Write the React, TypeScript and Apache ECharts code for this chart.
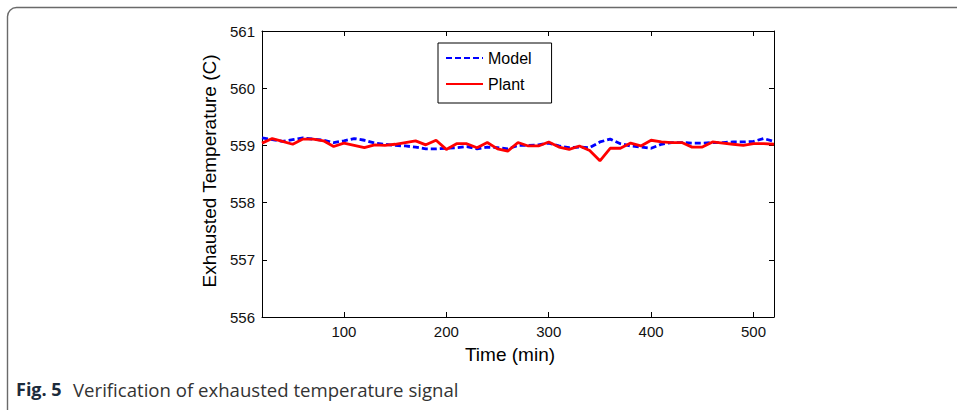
import React, { useEffect, useRef } from "react";
import * as echarts from "echarts";

const times: number[] = [
  20, 30, 40, 50, 60, 70, 80, 90, 100, 110, 120, 130, 140, 150, 160, 170, 180, 190, 200, 210,
  220, 230, 240, 250, 260, 270, 280, 290, 300, 310, 320, 330, 340, 350, 360, 370, 380, 390, 400,
  410, 420, 430, 440, 450, 460, 470, 480, 490, 500, 510, 520,
];

const modelValues: number[] = [
  559.13, 559.1, 559.07, 559.1, 559.13, 559.11, 559.09, 559.05, 559.08, 559.12, 559.09, 559.04,
  559.02, 559.0, 558.99, 558.97, 558.94, 558.94, 558.95, 558.96, 558.98, 558.94, 558.97, 558.96,
  558.94, 559.0, 559.0, 559.01, 559.04, 558.99, 558.96, 558.97, 558.96, 559.06, 559.11, 559.03,
  558.99, 558.97, 558.95, 559.02, 559.05, 559.05, 559.04, 559.04, 559.05, 559.05, 559.06, 559.06,
  559.07, 559.12, 559.07,
];

const plantValues: number[] = [
  559.04, 559.12, 559.07, 559.02, 559.11, 559.11, 559.08, 558.98, 559.04, 559.0, 558.96, 559.01,
  559.0, 559.02, 559.05, 559.08, 559.01, 559.09, 558.93, 559.03, 559.03, 558.96, 559.05, 558.94,
  558.9, 559.05, 558.99, 558.99, 559.06, 558.97, 558.93, 558.99, 558.91, 558.73, 558.95, 558.95,
  559.04, 558.99, 559.09, 559.06, 559.05, 559.05, 558.97, 558.97, 559.06, 559.04, 559.02, 559.0,
  559.03, 559.03, 559.02,
];

const xTicks: number[] = [100, 200, 300, 400, 500];
const seriesNames: string[] = ["Model", "Plant"];

const FONT = "'Liberation Sans', Arial, sans-serif";

export default function App() {
  const ref = useRef<HTMLDivElement>(null);

  useEffect(() => {
    if (!ref.current) return;
    const chart = echarts.init(ref.current, null, { renderer: "svg" });
    const modelData = times.map((t, i) => [t, modelValues[i]]);
    const plantData = times.map((t, i) => [t, plantValues[i]]);

    const axisCommon = {
      axisLine: { show: true, onZero: false, lineStyle: { color: "#000", width: 1 } },
      axisTick: { show: true, inside: true, length: 5, lineStyle: { color: "#000", width: 1 } },
      splitLine: { show: false },
    };

    chart.setOption({
      animation: false,
      backgroundColor: "#fff",
      grid: { left: 262, top: 31, width: 512, height: 286, containLabel: false },
      xAxis: [
        {
          type: "value",
          min: 20,
          max: 520,
          position: "bottom",
          ...axisCommon,
          axisTick: { ...axisCommon.axisTick, customValues: xTicks },
          axisLabel: {
            customValues: xTicks,
            color: "#111",
            fontSize: 15,
            fontFamily: FONT,
            margin: 7,
          },
          name: "Time (min)",
          nameLocation: "middle",
          nameGap: 28,
          nameTextStyle: { color: "#000", fontSize: 19, fontFamily: FONT, padding: [0, 16, 0, 0] },
        },
        {
          type: "value",
          min: 20,
          max: 520,
          position: "top",
          ...axisCommon,
          axisTick: { ...axisCommon.axisTick, customValues: xTicks },
          axisLabel: { show: false },
        },
      ],
      yAxis: [
        {
          type: "value",
          min: 556,
          max: 561,
          interval: 1,
          position: "left",
          ...axisCommon,
          axisLabel: { color: "#111", fontSize: 15, fontFamily: FONT, margin: 7 },
          name: "Exhausted Temperature (C)",
          nameLocation: "middle",
          nameGap: 41,
          nameRotate: 90,
          nameTextStyle: { color: "#000", fontSize: 19, fontFamily: FONT, padding: [0, 0, 0, 6] },
        },
        {
          type: "value",
          min: 556,
          max: 561,
          interval: 1,
          position: "right",
          ...axisCommon,
          axisLabel: { show: false },
        },
      ],
      legend: {
        orient: "vertical",
        left: 438,
        top: 43,
        data: seriesNames,
        backgroundColor: "#fff",
        borderColor: "#000",
        borderWidth: 1,
        borderRadius: 0,
        padding: [7, 20, 11, 7],
        itemGap: 10,
        itemWidth: 37,
        itemHeight: 16,
        itemStyle: { opacity: 0 },
        textStyle: { color: "#000", fontSize: 16, fontFamily: FONT, padding: [0, 0, 0, 0] },
      },
      series: [
        {
          name: seriesNames[0],
          type: "line",
          xAxisIndex: 0,
          yAxisIndex: 0,
          data: modelData,
          showSymbol: false,
          symbol: "none",
          lineStyle: { color: "#0000ff", width: 2.8, type: [6, 3] },
          itemStyle: { color: "#0000ff" },
          z: 2,
        },
        {
          name: seriesNames[1],
          type: "line",
          xAxisIndex: 0,
          yAxisIndex: 0,
          data: plantData,
          showSymbol: false,
          symbol: "none",
          lineStyle: { color: "#ff0000", width: 2.8 },
          itemStyle: { color: "#ff0000" },
          z: 3,
        },
      ],
      graphic: [
        {
          type: "rect",
          silent: true,
          shape: { x: 7.5, y: 7.5, width: 980, height: 440, r: [9, 0, 0, 0] },
          style: { fill: "none", stroke: "#6a6a6a", lineWidth: 1.4 },
          z: -1,
        },
        {
          type: "text",
          left: 16,
          top: 380,
          style: {
            text: "Fig. 5",
            font: "bold 18px 'Open Sans', 'Noto Sans', sans-serif",
            fill: "#1c2b3c",
          },
        },
        {
          type: "text",
          left: 73,
          top: 380,
          style: {
            text: "Verification of exhausted temperature signal",
            font: "18.6px 'Open Sans', 'Noto Sans', sans-serif",
            fill: "#333",
          },
        },
      ],
    });
    return () => chart.dispose();
  }, []);

  return (
    <div
      ref={ref}
      style={{ position: "fixed", left: 0, top: 0, width: 957, height: 410, background: "#fff" }}
    />
  );
}
